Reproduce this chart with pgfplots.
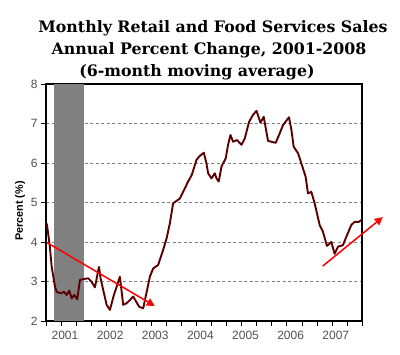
\documentclass[border=0pt]{standalone}
\usepackage{pgfplots}
\pgfplotsset{compat=1.18}
\usepackage{fontspec}
\setmainfont{Liberation Sans}
\newfontfamily\titlefont{DejaVu Serif}
\usetikzlibrary{arrows.meta}
\definecolor{linecol}{HTML}{5A0000}
\definecolor{ticklab}{HTML}{505050}
\definecolor{recess}{HTML}{808080}
\begin{document}
\begin{tikzpicture}[x=1pt,y=1pt]
\path[use as bounding box] (0,0) rectangle (400,355);
\node[anchor=base] at (213,322) {\titlefont\bfseries\fontsize{15.8}{18}\selectfont Monthly Retail and Food Services Sales};
\node[anchor=base] at (209,300) {\titlefont\bfseries\fontsize{15.8}{18}\selectfont Annual Percent Change, 2001-2008};
\node[anchor=base] at (197,278) {\titlefont\bfseries\fontsize{15.8}{18}\selectfont (6-month moving average)};
\node[rotate=90, anchor=center, inner sep=0pt] at (20,144) {\fontsize{10.8}{12}\selectfont\bfseries Percent (\%)};
\begin{axis}[
  at={(46pt,34pt)}, anchor=south west,
  scale only axis, width=316pt, height=237pt,
  xmin=2001, xmax=2008, ymin=2, ymax=8,
  clip=false,
  axis line style={black, line width=1.5pt},
  xtick={2001,2002,2003,2004,2005,2006,2007,2008},
  minor xtick={2001.3333,2001.6667,2002.3333,2002.6667,2003.3333,2003.6667,2004.3333,2004.6667,2005.3333,2005.6667,2006.3333,2006.6667,2007.3333,2007.6667},
  xticklabels={},
  extra x ticks={2001.42,2002.42,2003.42,2004.42,2005.42,2006.42,2007.42},
  extra x tick labels={2001,2002,2003,2004,2005,2006,2007},
  extra x tick style={major tick length=0pt, grid=none},
  ytick={2,3,4,5,6,7,8},
  tick align=outside,
  major tick length=5pt, minor tick length=5pt,
  every tick/.style={black, line width=0.6pt},
  xtick pos=bottom, ytick pos=left,
  ymajorgrids,
  grid style={gray, dash pattern=on 3pt off 2.5pt, line width=0.5pt},
  tick label style={font=\fontsize{12}{13}\selectfont, text=ticklab},
  /pgf/number format/assume math mode=true,
  xticklabel style={yshift=-7pt},
]
\addplot[fill=recess, draw=none] coordinates {(2001.167,2) (2001.167,8) (2001.833,8) (2001.833,2)} -- cycle;
\addplot[linecol, line width=1.9pt, line join=round] coordinates {
(2001.000,4.47) (2001.020,4.45) (2001.084,3.90) (2001.126,3.37) (2001.199,2.87)
(2001.237,2.74) (2001.325,2.70) (2001.398,2.74) (2001.458,2.66) (2001.515,2.77)
(2001.569,2.57) (2001.626,2.66) (2001.692,2.55) (2001.752,3.04) (2001.825,3.06)
(2001.936,3.08) (2002.011,2.99) (2002.084,2.85) (2002.173,3.37) (2002.210,3.08)
(2002.268,2.78) (2002.343,2.41) (2002.416,2.28) (2002.504,2.66) (2002.637,3.12)
(2002.710,2.41) (2002.785,2.45) (2002.858,2.53) (2002.931,2.62) (2003.064,2.36)
(2003.153,2.32) (2003.301,3.12) (2003.374,3.33) (2003.485,3.42) (2003.595,3.80)
(2003.671,4.09) (2003.743,4.47) (2003.816,4.98) (2003.965,5.10) (2004.038,5.27)
(2004.148,5.53) (2004.230,5.70) (2004.334,6.08) (2004.407,6.18) (2004.496,6.26)
(2004.555,5.99) (2004.591,5.74) (2004.666,5.61) (2004.739,5.74) (2004.777,5.61)
(2004.827,5.53) (2004.887,5.91) (2004.982,6.12) (2005.033,6.46) (2005.086,6.71)
(2005.144,6.54) (2005.232,6.58) (2005.330,6.46) (2005.403,6.62) (2005.498,7.04)
(2005.586,7.22) (2005.662,7.32) (2005.750,7.02) (2005.823,7.17) (2005.918,6.56)
(2006.088,6.51) (2006.177,6.75) (2006.250,6.96) (2006.383,7.16) (2006.436,6.84)
(2006.487,6.41) (2006.582,6.25) (2006.657,5.99) (2006.752,5.65) (2006.803,5.23)
(2006.878,5.27) (2006.951,4.98) (2007.062,4.43) (2007.135,4.26) (2007.223,3.90)
(2007.321,4.00) (2007.394,3.70) (2007.467,3.88) (2007.577,3.92) (2007.652,4.13)
(2007.763,4.43) (2007.836,4.51) (2007.931,4.51) (2007.991,4.56)
};
\draw[red, line width=1.5pt, -{Triangle[length=8pt,width=8pt]}] (axis cs:2001.015,3.99) -- (axis cs:2003.41,2.38);
\draw[red, line width=1.5pt, -{Triangle[length=8pt,width=8pt]}] (axis cs:2007.13,3.39) -- (axis cs:2008.46,4.63);
\end{axis}
\end{tikzpicture}
\end{document}
